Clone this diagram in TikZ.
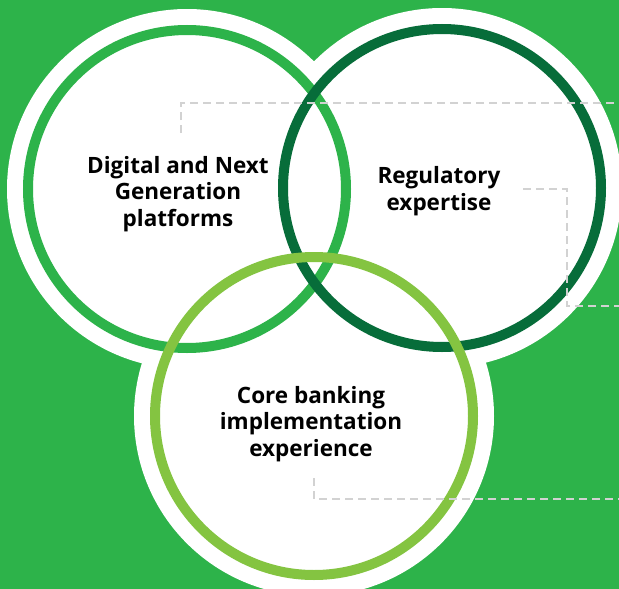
\documentclass[tikz,border=0pt]{standalone}
\usepackage{fontspec}
\setmainfont{Open Sans}
\usetikzlibrary{positioning}
\definecolor{bggreen}{HTML}{2DB34A}
\definecolor{darkgreen}{HTML}{076D3A}
\definecolor{limegreen}{HTML}{84C441}
\definecolor{dashgray}{HTML}{D2D2D2}

\begin{document}
\begin{tikzpicture}[x=1pt,y=-1pt]
\tikzstyle{halo}=[circle, minimum size=360pt, inner sep=0pt, fill=white]
\tikzstyle{ring}=[circle, minimum size=318pt, inner sep=0pt, line width=10pt]
\tikzstyle{areatext}=[align=center, font=\bfseries\fontsize{22.5}{26.7}\selectfont]
\tikzstyle{leader}=[draw=dashgray, line width=1.2pt, dash pattern=on 8pt off 5pt]
\fill[bggreen] (0,0) rectangle (619,589);
\useasboundingbox (0,0) rectangle (619,589);
	% white halos first, rings on top
	\node[halo] (h_dig) at (187,189) {};
	\node[halo] (h_reg) at (442,188) {};
	\node[halo] (h_core) at (314,416) {};
	\node[ring, draw=bggreen] (dig) at (h_dig.center) {};
	\node[ring, draw=darkgreen] (reg) at (h_reg.center) {};
	\node[ring, draw=limegreen] (core) at (h_core.center) {};

	\coordinate (la0) at (181,133);
	\coordinate (la1) at (619,103);
	\coordinate (lb0) at (523,189);
	\coordinate (lb1) at (567,306);
	\coordinate (lb2) at (619,306);
	\coordinate (lc0) at (314,478);
	\coordinate (lc1) at (619,499);

	\node[areatext] (t_dig) at (178,194) {Digital and Next\\Generation\\platforms};
	\node[areatext] (t_reg) at (439,191) {Regulatory\\expertise};
	\node[areatext] (t_core) at (311,424) {Core banking\\implementation\\experience};

	\draw[leader] (la0) |- (la1);
	\draw[leader] (lb0) -| (lb1) -- (lb2);
	\draw[leader] (lc0) |- (lc1);
\end{tikzpicture}
\end{document}
